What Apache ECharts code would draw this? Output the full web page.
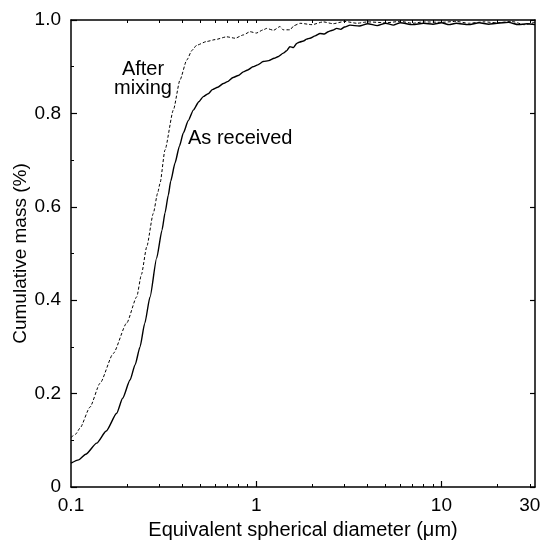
<!DOCTYPE html>
<html>
<head>
<meta charset="utf-8">
<title>Cumulative mass</title>
<script src="https://cdn.jsdelivr.net/npm/echarts@6/dist/echarts.min.js"></script>
<style>
  html, body { margin: 0; padding: 0; background: #fff; }
  #chart { width: 542px; height: 540px; }
</style>
</head>
<body>
<div id="chart"></div>
<script>
// 数据：粒径 (µm) 与累计质量
var asReceivedD = [0.1, 0.11, 0.12, 0.1377, 0.155, 0.1765, 0.19, 0.2083, 0.222, 0.2359, 0.25, 0.2671, 0.29,
    0.31, 0.3218, 0.3353, 0.3454, 0.3645, 0.385, 0.4041, 0.43, 0.4575, 0.49, 0.518, 0.55, 0.58, 0.62, 0.664,
    0.7, 0.75, 0.8, 0.852, 0.9, 0.96, 1.02, 1.09, 1.17, 1.25, 1.32, 1.4, 1.46, 1.52, 1.59, 1.655, 1.72, 1.8,
    1.87, 1.95, 2.08, 2.21, 2.33, 2.45, 2.58, 2.72, 2.86, 3.0, 3.21, 3.6, 4.0, 4.5, 5, 5.5, 6, 7, 8, 9, 10,
    11, 12, 14, 16, 18, 20, 23, 26, 29, 32];
var asReceivedV = [0.051, 0.058, 0.07, 0.094, 0.12, 0.158, 0.19, 0.229, 0.262, 0.30, 0.35, 0.407, 0.49,
    0.55, 0.587, 0.625, 0.655, 0.694, 0.73, 0.758, 0.785, 0.807, 0.825, 0.836, 0.842, 0.851, 0.856, 0.864,
    0.868, 0.877, 0.881, 0.889, 0.893, 0.900, 0.904, 0.911, 0.913, 0.918, 0.922, 0.929, 0.934, 0.943, 0.941,
    0.950, 0.953, 0.955, 0.959, 0.961, 0.966, 0.971, 0.970, 0.975, 0.978, 0.982, 0.980, 0.985, 0.989, 0.987,
    0.992, 0.988, 0.993, 0.989, 0.994, 0.990, 0.993, 0.991, 0.994, 0.990, 0.993, 0.990, 0.994, 0.991, 0.993,
    0.995, 0.990, 0.992, 0.990];

var afterMixingD = [0.1, 0.1059, 0.1118, 0.1266, 0.1434, 0.1692, 0.1998, 0.2263, 0.24, 0.2563, 0.2782,
    0.2935, 0.3024, 0.3218, 0.3568, 0.3879, 0.4214, 0.45, 0.4771, 0.5404, 0.6, 0.6928, 0.77, 0.852, 0.9259,
    1.0, 1.092, 1.139, 1.24, 1.344, 1.396, 1.522, 1.6, 1.724, 2.0, 2.3, 2.6, 3.0, 3.5, 4.0, 5, 6, 7, 8, 10,
    12, 14, 17, 20, 24, 28, 32];
var afterMixingV = [0.106, 0.113, 0.126, 0.171, 0.222, 0.286, 0.351, 0.407, 0.455, 0.514, 0.586, 0.629,
    0.650, 0.722, 0.807, 0.872, 0.914, 0.935, 0.946, 0.954, 0.958, 0.964, 0.961, 0.968, 0.975, 0.972, 0.979,
    0.982, 0.978, 0.986, 0.979, 0.979, 0.988, 0.993, 0.990, 0.996, 0.992, 0.997, 0.993, 0.996, 0.994, 0.997,
    0.993, 0.996, 0.995, 0.997, 0.993, 0.996, 0.994, 0.997, 0.990, 0.995];

// 坐标轴刻度
var xLabelValues = [0.1, 1, 10, 30];
var xMajorTicks = [1, 10];
var xMinorTicks = [0.2, 0.3, 0.4, 0.5, 0.6, 0.7, 0.8, 0.9, 2, 3, 4, 5, 6, 7, 8, 9, 20, 30];
var yTickLabels = ['0', '0.2', '0.4', '0.6', '0.8', '1.0'];

var xMin = 0.1, xMax = 32;

function pairs(xs, ys) {
    var out = [];
    for (var i = 0; i < xs.length; i++) {
        out.push([xs[i], ys[i]]);
    }
    return out;
}
function logs(arr) {
    return arr.map(function (v) { return Math.log10(v); });
}

var ink = '#000';
var font = 'Liberation Sans, Arial, Helvetica, sans-serif';
var lgMin = Math.log10(xMin), lgMax = Math.log10(xMax);

var option = {
    backgroundColor: '#fff',
    animation: false,
    grid: { left: 71, right: 7, top: 20, bottom: 53, containLabel: false, outerBoundsMode: 'none' },
    xAxis: [
        {   // 数据用对数轴
            type: 'log', logBase: 10, min: xMin, max: xMax, position: 'bottom',
            axisLine: { onZero: false, lineStyle: { color: ink, width: 1.5 } },
            axisTick: { show: false }, axisLabel: { show: false },
            splitLine: { show: false }, minorTick: { show: false }
        },
        {   // 主刻度和标签
            type: 'value', min: lgMin, max: lgMax, position: 'bottom',
            axisLine: { show: false, onZero: false }, splitLine: { show: false },
            axisTick: { show: true, inside: true, length: 6, customValues: logs(xMajorTicks),
                lineStyle: { color: ink, width: 1.2 } },
            axisLabel: {
                customValues: logs(xLabelValues), margin: 9,
                color: ink, fontSize: 19, fontFamily: font,
                formatter: function (v) {
                    for (var i = 0; i < xLabelValues.length; i++) {
                        if (Math.abs(Math.log10(xLabelValues[i]) - v) < 1e-6) return String(xLabelValues[i]);
                    }
                    return '';
                }
            },
            name: 'Equivalent spherical diameter (\u03bcm)', nameLocation: 'middle', nameGap: 33,
            nameMoveOverlap: false,
            nameTextStyle: { color: ink, fontSize: 20, fontFamily: font }
        },
        {   // 次刻度
            type: 'value', min: lgMin, max: lgMax, position: 'bottom',
            axisLine: { show: false, onZero: false }, splitLine: { show: false }, axisLabel: { show: false },
            axisTick: { show: true, inside: true, length: 3, customValues: logs(xMinorTicks),
                lineStyle: { color: ink, width: 1 } }
        },
        {   // 顶边
            type: 'value', min: lgMin, max: lgMax, position: 'top',
            axisLine: { show: true, onZero: false, lineStyle: { color: ink, width: 1.5 } },
            splitLine: { show: false }, axisLabel: { show: false },
            axisTick: { show: true, inside: true, length: 3,
                customValues: logs(xMinorTicks.concat(xMajorTicks)),
                lineStyle: { color: ink, width: 1 } }
        }
    ],
    yAxis: [
        {
            type: 'value', min: 0, max: 1, interval: 0.2, position: 'left',
            axisLine: { show: true, onZero: false, lineStyle: { color: ink, width: 1.5 } },
            axisTick: { show: true, inside: true, length: 6, lineStyle: { color: ink, width: 1.2 } },
            minorTick: { show: true, splitNumber: 2, length: 3, lineStyle: { color: ink } },
            splitLine: { show: false },
            axisLabel: {
                color: ink, fontSize: 19, fontFamily: font, margin: 10,
                formatter: function (v) { return yTickLabels[Math.round(v / 0.2)]; }
            },
            name: 'Cumulative mass (%)', nameLocation: 'middle', nameGap: 41,
            nameMoveOverlap: false,
            nameTextStyle: { color: ink, fontSize: 19, fontFamily: font }
        },
        {
            type: 'value', min: 0, max: 1, interval: 0.2, position: 'right',
            axisLine: { show: true, onZero: false, lineStyle: { color: ink, width: 1.5 } },
            axisTick: { show: true, inside: true, length: 5, lineStyle: { color: ink, width: 1.2 } },
            splitLine: { show: false }, axisLabel: { show: false }
        }
    ],
    series: [
        {
            name: 'As received', type: 'line', xAxisIndex: 0, yAxisIndex: 0,
            data: pairs(asReceivedD, asReceivedV),
            showSymbol: false, symbol: 'none',
            smooth: 0.2, smoothMonotone: 'x',
            lineStyle: { color: ink, width: 1.4 },
            markPoint: {
                symbol: 'circle', symbolSize: 0, silent: true,
                data: [{
                    coord: [0.4282, 0.747],
                    label: { show: true, position: 'right', distance: 0, formatter: 'As received',
                        color: ink, fontSize: 20, fontFamily: font }
                }]
            }
        },
        {
            name: 'After mixing', type: 'line', xAxisIndex: 0, yAxisIndex: 0,
            data: pairs(afterMixingD, afterMixingV),
            showSymbol: false, symbol: 'none',
            smooth: 0.2, smoothMonotone: 'x',
            lineStyle: { color: ink, width: 1, type: [3, 2] },
            markPoint: {
                symbol: 'circle', symbolSize: 0, silent: true,
                data: [{
                    coord: [0.2448, 0.874],
                    label: { show: true, position: 'inside', formatter: 'After\nmixing',
                        align: 'center', lineHeight: 19,
                        color: ink, fontSize: 20, fontFamily: font }
                }]
            }
        }
    ]
};

var chart = echarts.init(document.getElementById('chart'));
chart.setOption(option);
window.onresize = function () {
    chart.resize();
};
</script>
</body>
</html>
